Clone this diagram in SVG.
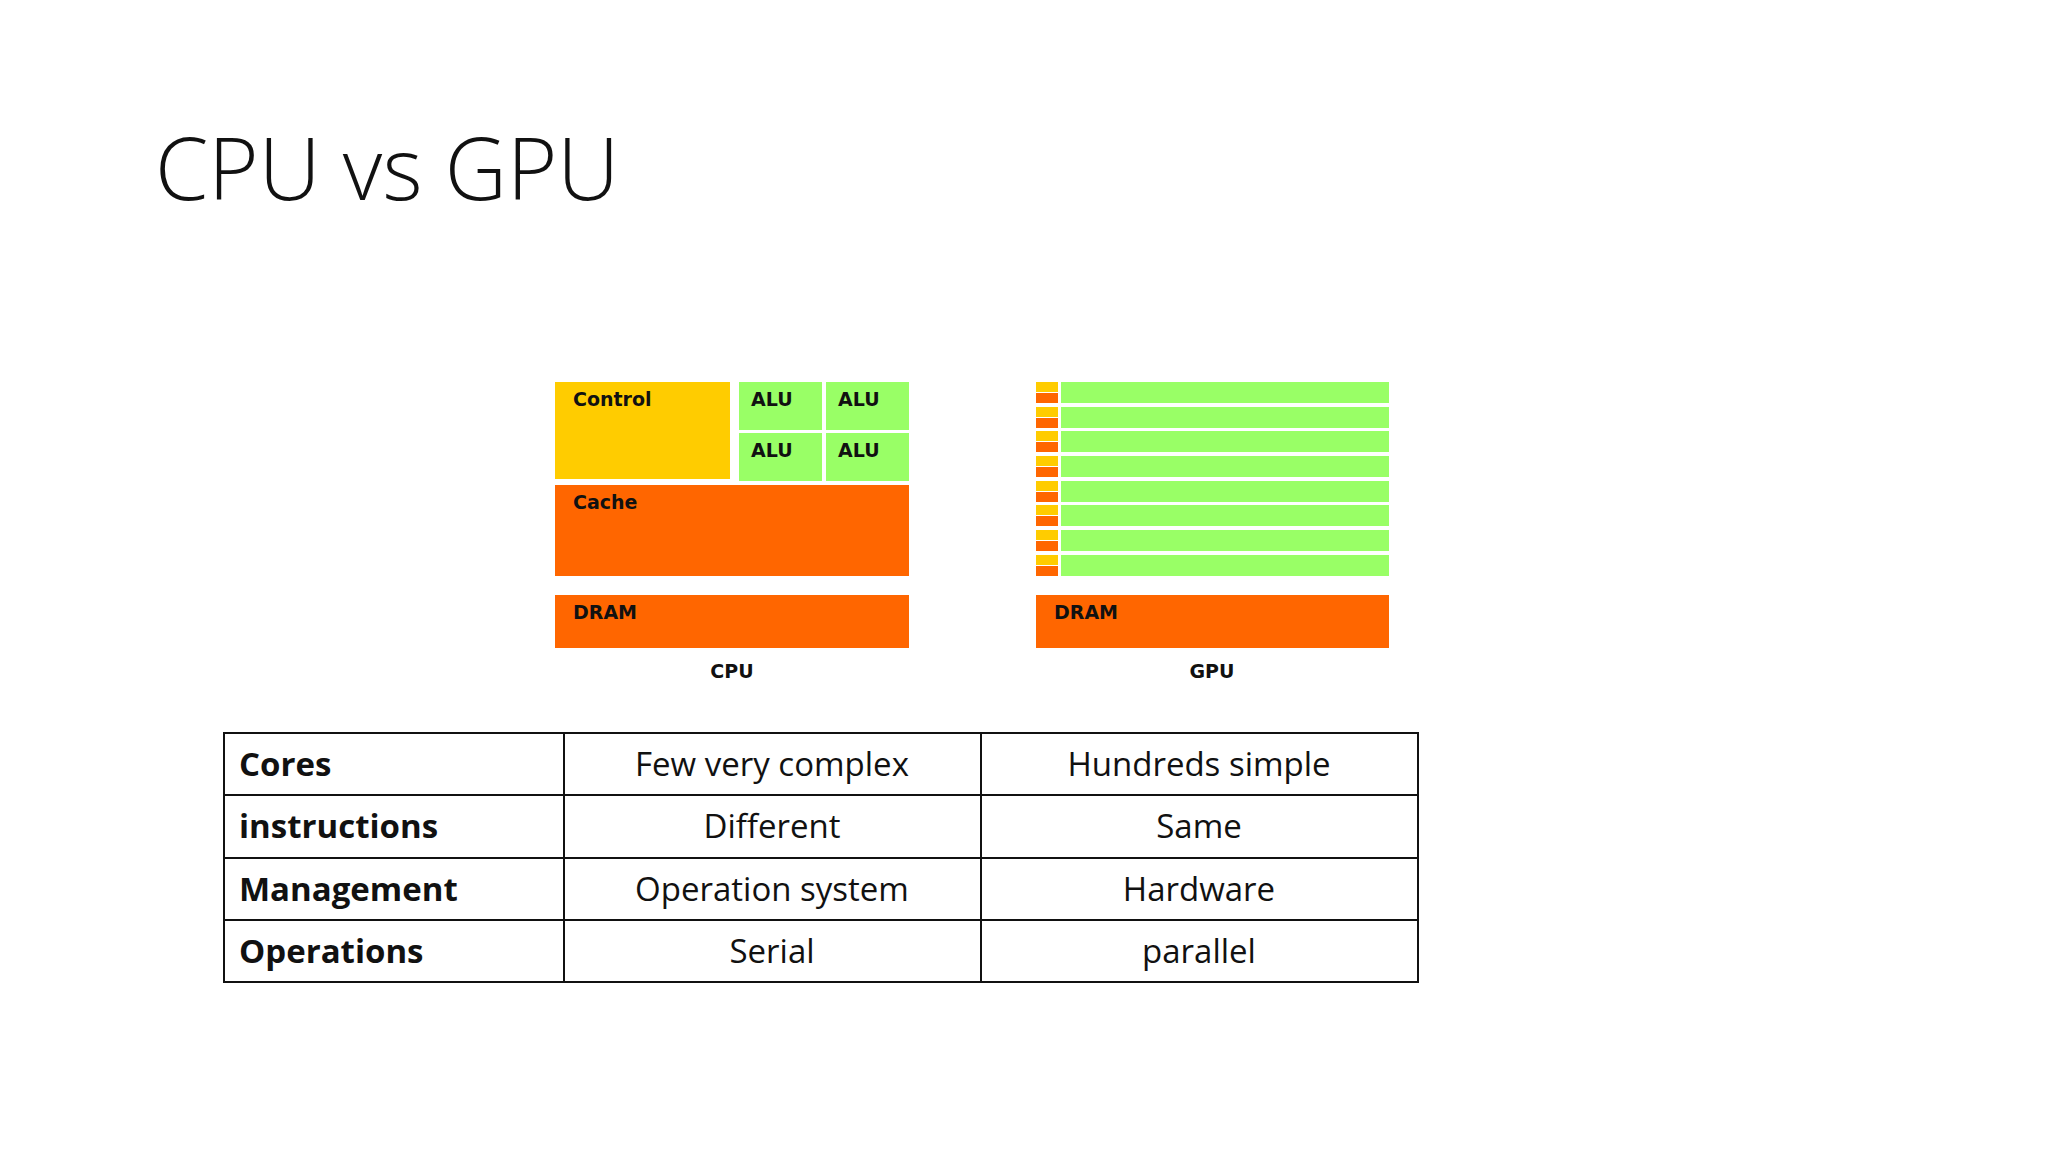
<svg xmlns="http://www.w3.org/2000/svg" width="2048" height="1152" viewBox="0 0 2048 1152">
<style>
.lbl{font-family:"DejaVu Sans",sans-serif;font-weight:bold;font-size:19px;fill:#111}
.t{font-family:"Open Sans","Noto Sans",sans-serif;font-size:33px;fill:#111}
.b{font-weight:bold}
.g{fill:#99ff66}.o{fill:#ff6600}.y{fill:#ffcc00}
</style>
<rect width="2048" height="1152" fill="#fff"/>
<text x="155" y="200" font-family="Open Sans,sans-serif" font-weight="300" font-size="86" fill="#111">CPU vs GPU</text>
<g id="cpu">
<rect class="y" x="555" y="382" width="175" height="97"/>
<rect class="g" x="739" y="382" width="83" height="48"/>
<rect class="g" x="826" y="382" width="83" height="48"/>
<rect class="g" x="739" y="433" width="83" height="48"/>
<rect class="g" x="826" y="433" width="83" height="48"/>
<rect class="o" x="555" y="485" width="354" height="91"/>
<rect class="o" x="555" y="595" width="354" height="53"/>
<text class="lbl" x="573" y="406">Control</text>
<text class="lbl" x="751" y="406">ALU</text>
<text class="lbl" x="838" y="406">ALU</text>
<text class="lbl" x="751" y="457">ALU</text>
<text class="lbl" x="838" y="457">ALU</text>
<text class="lbl" x="573" y="509">Cache</text>
<text class="lbl" x="573" y="619">DRAM</text>
<text class="lbl" x="732" y="678" text-anchor="middle" font-size="26">CPU</text>
</g>
<g id="gpu">
<g id="rows">
<rect class="y" x="1036" y="382" width="22" height="10"/><rect class="o" x="1036" y="393" width="22" height="10"/><rect class="g" x="1061" y="382" width="328" height="21"/>
<rect class="y" x="1036" y="407" width="22" height="10"/><rect class="o" x="1036" y="418" width="22" height="10"/><rect class="g" x="1061" y="407" width="328" height="21"/>
<rect class="y" x="1036" y="431" width="22" height="10"/><rect class="o" x="1036" y="442" width="22" height="10"/><rect class="g" x="1061" y="431" width="328" height="21"/>
<rect class="y" x="1036" y="456" width="22" height="10"/><rect class="o" x="1036" y="467" width="22" height="10"/><rect class="g" x="1061" y="456" width="328" height="21"/>
<rect class="y" x="1036" y="481" width="22" height="10"/><rect class="o" x="1036" y="492" width="22" height="10"/><rect class="g" x="1061" y="481" width="328" height="21"/>
<rect class="y" x="1036" y="505" width="22" height="10"/><rect class="o" x="1036" y="516" width="22" height="10"/><rect class="g" x="1061" y="505" width="328" height="21"/>
<rect class="y" x="1036" y="530" width="22" height="10"/><rect class="o" x="1036" y="541" width="22" height="10"/><rect class="g" x="1061" y="530" width="328" height="21"/>
<rect class="y" x="1036" y="555" width="22" height="10"/><rect class="o" x="1036" y="566" width="22" height="10"/><rect class="g" x="1061" y="555" width="328" height="21"/>
</g>
<rect class="o" x="1036" y="595" width="353" height="53"/>
<text class="lbl" x="1054" y="619">DRAM</text>
<text class="lbl" x="1212" y="678" text-anchor="middle" font-size="26">GPU</text>
</g>
<g id="table" stroke="#111" stroke-width="2" fill="none">
<rect x="224" y="733" width="1194" height="249"/>
<line x1="224" y1="795" x2="1418" y2="795"/>
<line x1="224" y1="858" x2="1418" y2="858"/>
<line x1="224" y1="920" x2="1418" y2="920"/>
<line x1="564" y1="733" x2="564" y2="982"/>
<line x1="981" y1="733" x2="981" y2="982"/>
</g>
<g id="cells" class="t">
<text class="t b" x="239" y="776">Cores</text>
<text class="t b" x="239" y="838">instructions</text>
<text class="t b" x="239" y="901">Management</text>
<text class="t b" x="239" y="963">Operations</text>
<g text-anchor="middle">
<text class="t" x="772" y="776">Few very complex</text>
<text class="t" x="772" y="838">Different</text>
<text class="t" x="772" y="901">Operation system</text>
<text class="t" x="772" y="963">Serial</text>
<text class="t" x="1199" y="776">Hundreds simple</text>
<text class="t" x="1199" y="838">Same</text>
<text class="t" x="1199" y="901">Hardware</text>
<text class="t" x="1199" y="963">parallel</text>
</g>
</g>
</svg>
